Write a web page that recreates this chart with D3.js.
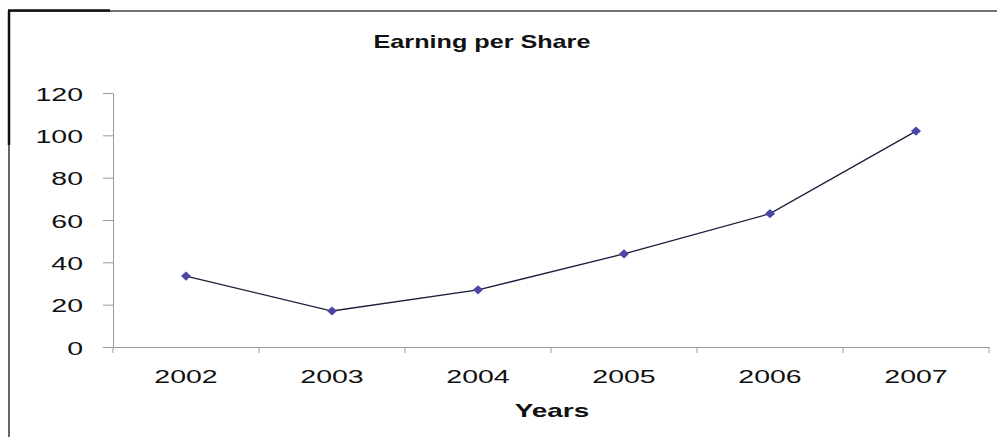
<!DOCTYPE html>
<html>
<head>
<meta charset="utf-8">
<script src="https://cdn.jsdelivr.net/npm/d3@7"></script>
<style>
  html, body { margin: 0; padding: 0; background: #fff; }
  svg { display: block; font-family: "Liberation Sans", Arial, sans-serif; }
</style>
</head>
<body>
<div id="chart"></div>
<script>
// data
var years = ["2002", "2003", "2004", "2005", "2006", "2007"];
var eps = [33.5, 17, 27, 44, 63, 102];
var yTicks = [0, 20, 40, 60, 80, 100, 120];

var width = 997, height = 437;
var stretch = 1.5; // the scanned text is wide, so stretch it sideways

var svg = d3.select("#chart").append("svg")
  .attr("width", width)
  .attr("height", height);

// frame (top and left edge only, as in the scan)
svg.append("line")
  .attr("x1", 9).attr("x2", width).attr("y1", 11).attr("y2", 11)
  .attr("stroke", "#444").attr("stroke-width", 1.5);
svg.append("line")
  .attr("x1", 9).attr("x2", 9).attr("y1", 11).attr("y2", height)
  .attr("stroke", "#333").attr("stroke-width", 1.5);
svg.append("line")
  .attr("x1", 8).attr("x2", 110).attr("y1", 10.5).attr("y2", 10.5)
  .attr("stroke", "#111").attr("stroke-width", 2.5);
svg.append("line")
  .attr("x1", 9).attr("x2", 9).attr("y1", 11).attr("y2", 145)
  .attr("stroke", "#111").attr("stroke-width", 2.5);

var x = d3.scaleBand().domain(years).range([113, 989]);
var y = d3.scaleLinear().domain([0, 120]).range([347, 93]);

// y axis
var yAxis = svg.append("g")
  .attr("transform", "translate(113,0)")
  .call(d3.axisLeft(y).tickValues(yTicks).tickSize(10).tickSizeOuter(0).tickPadding(0));
yAxis.select(".domain").attr("stroke", "#999");
yAxis.selectAll(".tick line").attr("stroke", "#999");
yAxis.selectAll(".tick text").remove();

yAxis.selectAll(".tick").append("text")
  .attr("transform", "translate(-30,7) scale(" + stretch + ",1)")
  .attr("text-anchor", "end")
  .attr("fill", "#111")
  .style("font-size", "19px")
  .text(function (d) { return d; });

// x axis
var xAxis = svg.append("g")
  .attr("transform", "translate(0,347)")
  .call(d3.axisBottom(x).tickSize(0).tickSizeOuter(0));
xAxis.select(".domain").attr("stroke", "#999");
xAxis.selectAll(".tick text").remove();
xAxis.selectAll(".tick").append("text")
  .attr("transform", "translate(0,36) scale(" + stretch + ",1)")
  .attr("text-anchor", "middle")
  .attr("fill", "#111")
  .style("font-size", "19px")
  .text(function (d) { return d; });

// category separators below the axis
var bounds = years.map(function (d) { return x(d); }).concat([x.range()[1]]);
svg.append("g").selectAll("line")
  .data(bounds)
  .enter()
  .append("line")
  .attr("x1", function (d) { return d; })
  .attr("x2", function (d) { return d; })
  .attr("y1", 347)
  .attr("y2", 353)
  .attr("stroke", "#999");

// line
var line = d3.line()
  .x(function (d, i) { return x(years[i]) + x.bandwidth() / 2; })
  .y(function (d) { return y(d); });

svg.append("path")
  .datum(eps)
  .attr("d", line)
  .attr("fill", "none")
  .attr("stroke", "#1c1c3c")
  .attr("stroke-width", 1.3);

svg.append("g").selectAll("path")
  .data(eps)
  .enter()
  .append("path")
  .attr("d", d3.symbol().type(d3.symbolDiamond).size(24))
  .attr("transform", function (d, i) {
    return "translate(" + (x(years[i]) + x.bandwidth() / 2) + "," + y(d) + ") scale(1.9,1)";
  })
  .attr("fill", "#4b45a6");

// titles
svg.append("text")
  .attr("transform", "translate(482,48) scale(1.4,1)")
  .attr("text-anchor", "middle")
  .attr("font-weight", "bold")
  .attr("fill", "#111")
  .style("font-size", "18px")
  .text("Earning per Share");

svg.append("text")
  .attr("transform", "translate(552,417) scale(1.55,1)")
  .attr("text-anchor", "middle")
  .attr("font-weight", "bold")
  .attr("fill", "#111")
  .style("font-size", "18px")
  .text("Years");
</script>
</body>
</html>
